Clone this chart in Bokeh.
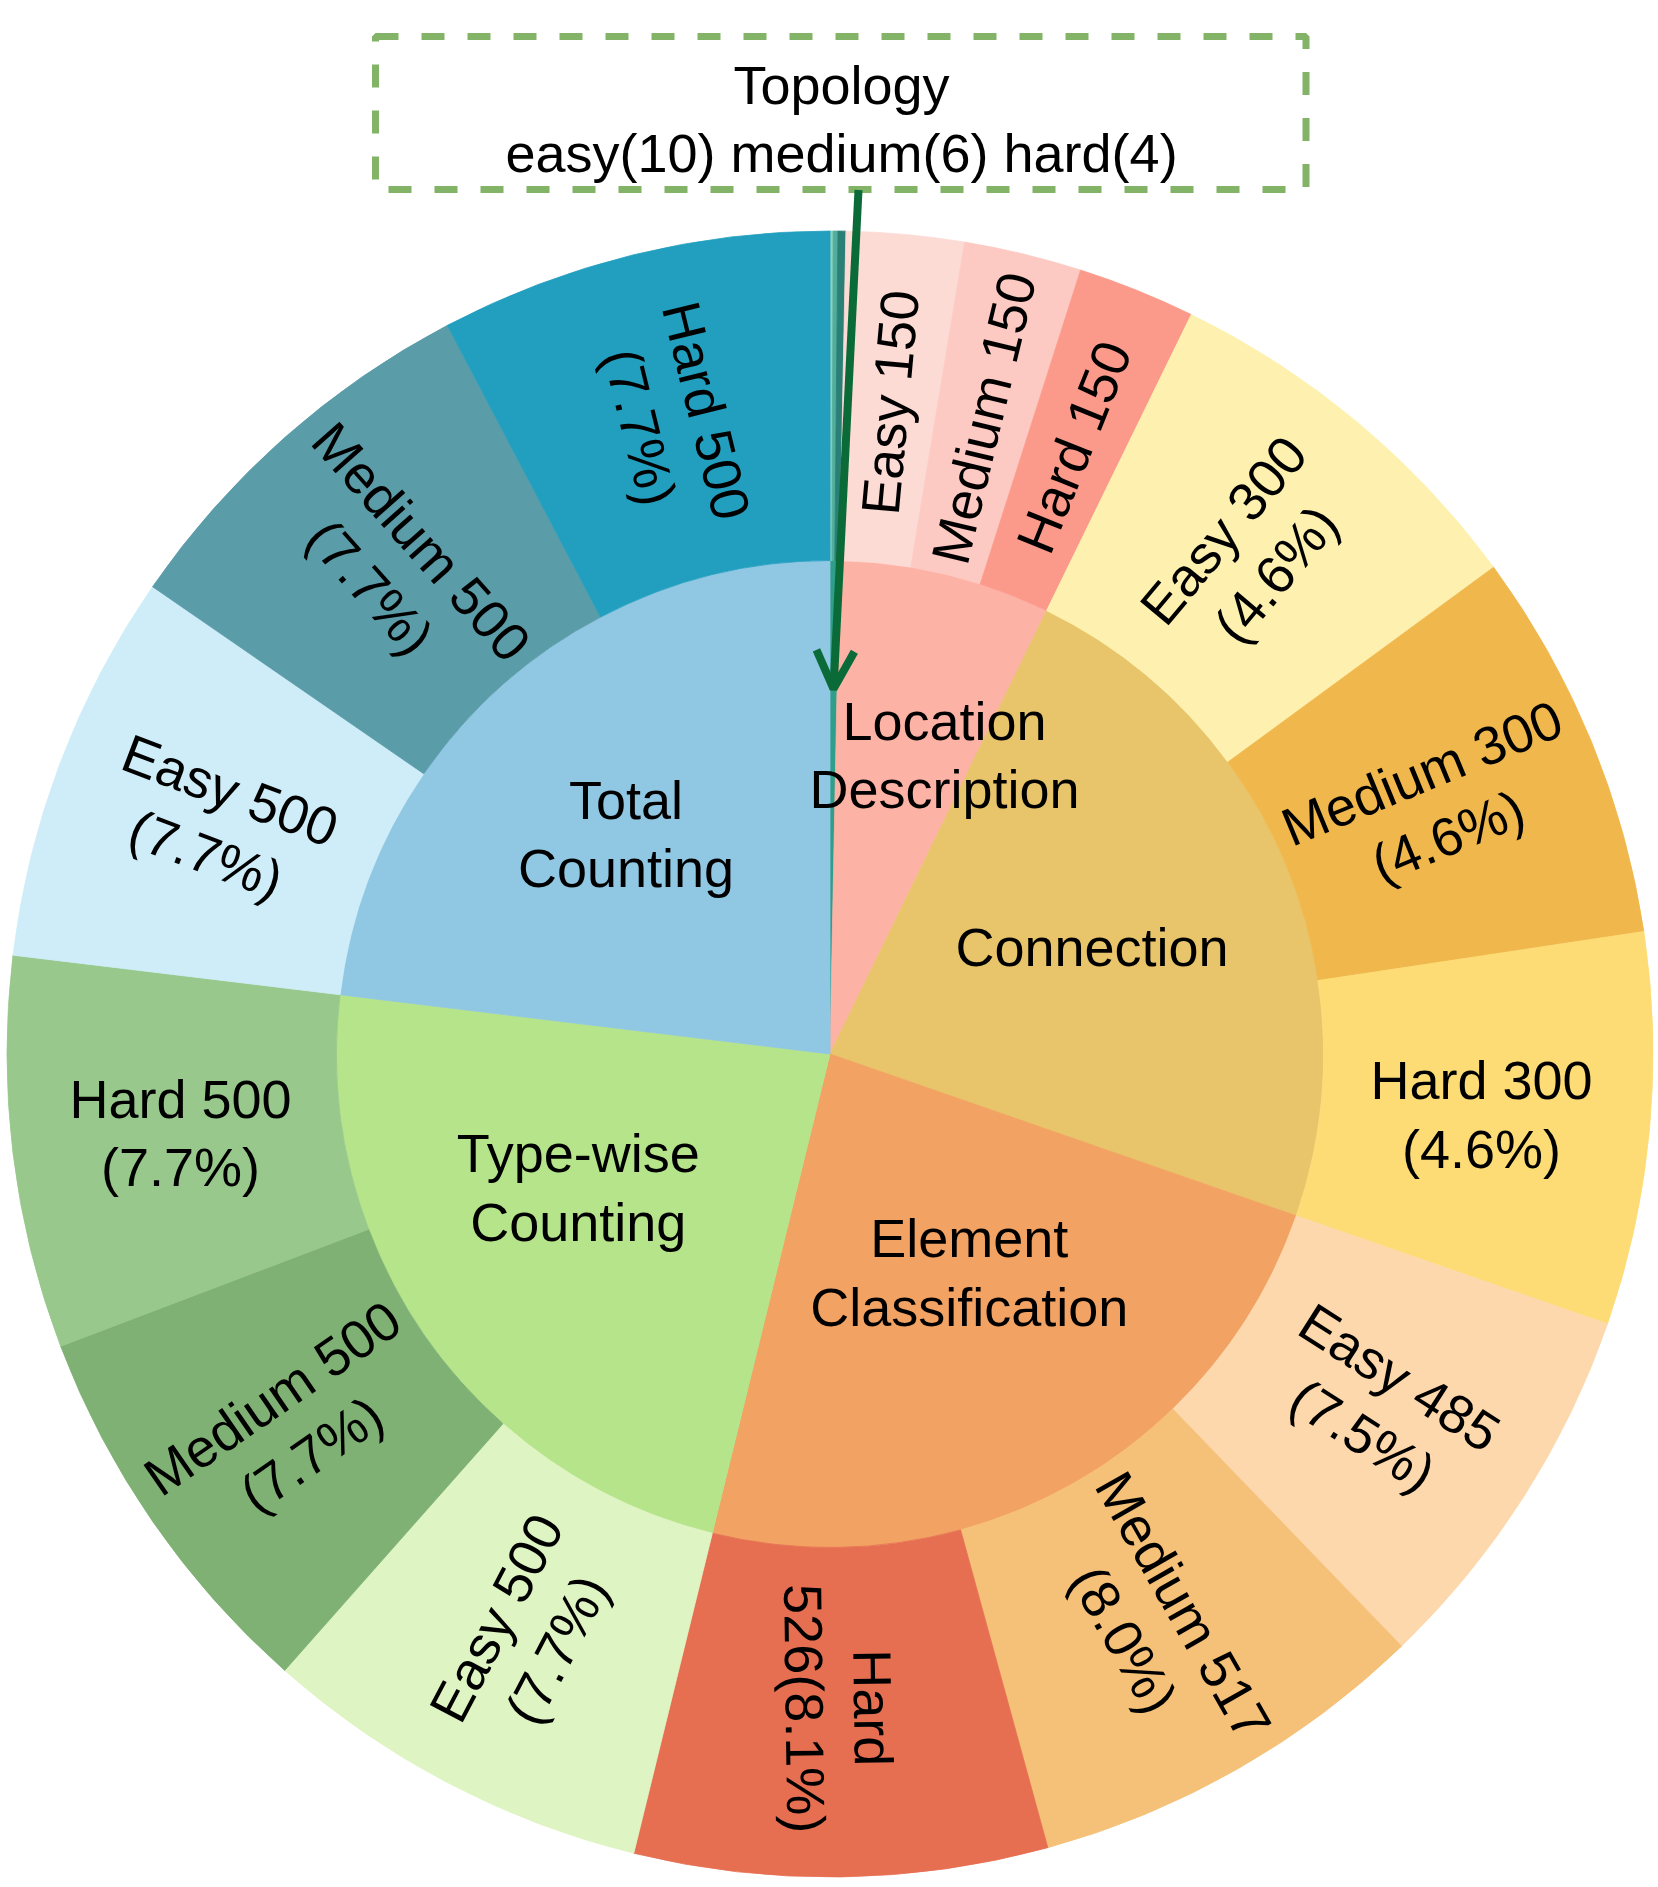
import math
from bokeh.plotting import figure
from bokeh.models import Range1d, Arrow, OpenHead, ColumnDataSource
from bokeh.core.properties import value
from bokeh.embed import file_html
from bokeh.resources import INLINE

# ---------------- data ----------------
categories = ["Topology", "Location Description", "Connection",
              "Element Classification", "Type-wise Counting", "Total Counting"]
inner_labels = ["", "Location\nDescription", "Connection",
                "Element\nClassification", "Type-wise\nCounting", "Total\nCounting"]
levels = ["Easy", "Medium", "Hard"]

topology_counts = [10, 6, 4]
location_counts = [150, 150, 150]
connection_counts = [300, 300, 300]
element_counts = [485, 517, 526]
typewise_counts = [500, 500, 500]
total_counts = [500, 500, 500]

# sector sizes as drawn in the reference
topology_sizes = [10, 6, 4]
location_sizes = [150, 150, 150]
connection_sizes = [500, 500, 500]
element_sizes = [485, 517, 526]
typewise_sizes = [500, 500, 500]
total_sizes = [500, 500, 500]

inner_colors = ["#2F9E8B", "#FDB2A6", "#E8C56A", "#F2A262", "#B5E48B", "#90C7E3"]
outer_colors = [
    ["#2A7F77", "#52AE9C", "#8CD2BF"],   # topology easy, medium, hard
    ["#FDDBD5", "#FDCAC3", "#FB9A8B"],
    ["#FEF1AF", "#F0B84C", "#FDDC76"],
    ["#FDD8AC", "#F5C077", "#E66F52"],
    ["#DFF4C3", "#7FB174", "#98C88B"],
    ["#CFEDF8", "#5B9CA9", "#229FBF"],
]

counts = [topology_counts, location_counts, connection_counts,
          element_counts, typewise_counts, total_counts]
sizes = [topology_sizes, location_sizes, connection_sizes,
         element_sizes, typewise_sizes, total_sizes]

# ---------------- geometry (styles) ----------------
R_IN = 493.5
R_OUT = 823.0
FONT = value("Liberation Sans")
FS = "54px"
LH = 1.14

total_size = float(sum(sum(s) for s in sizes))


def to_math(theta_deg):
    # clockwise-from-top degrees -> bokeh radians (ccw from +x)
    return math.radians(90.0 - theta_deg)


inner = dict(start=[], end=[], color=[])
outer = dict(start=[], end=[], color=[])
outer_text = dict(x=[], y=[], text=[], angle=[])
inner_mid = []

# per-category label placement for inner ring: (angle offset deg, radius)
inner_place = [(0, 0), (7.4, 320), (0.2, 283), (-4.0, 259), (6.7, 285), (-1.3, 300)]

theta = 0.0
for ci, cat in enumerate(categories):
    order = [2, 1, 0] if ci == 0 else [0, 1, 2]
    cat_start = theta
    for j in order:
        span = sizes[ci][j] / total_size * 360.0
        a0, a1 = theta, theta + span
        outer["start"].append(to_math(a1))
        outer["end"].append(to_math(a0))
        outer["color"].append(outer_colors[ci][j])
        mid = (a0 + a1) / 2.0
        cnt = counts[ci][j]
        pct = cnt / total_size * 100.0
        if ci == 0:
            lab = None
        elif ci == 1:
            lab = f"{levels[j]} {cnt}"
        elif ci == 3 and j == 2:
            lab = f"{levels[j]}\n{cnt}({pct:.1f}%)"
        else:
            lab = f"{levels[j]} {cnt}\n({pct:.1f}%)"
        if lab is not None:
            rr = (R_IN + R_OUT) / 2.0 - 4
            ang = 90.0 - mid if mid < 180 else 270.0 - mid
            if abs(ang) < 9:          # near-horizontal labels are drawn flat
                ang = 0.0
            outer_text["x"].append(rr * math.sin(math.radians(mid)))
            outer_text["y"].append(rr * math.cos(math.radians(mid)))
            outer_text["text"].append(lab)
            outer_text["angle"].append(math.radians(ang))
        theta = a1
    inner["start"].append(to_math(theta))
    inner["end"].append(to_math(cat_start))
    inner["color"].append(inner_colors[ci])
    inner_mid.append((cat_start + theta) / 2.0)

inner_text = dict(x=[], y=[], text=[])
for ci, lab in enumerate(inner_labels):
    if not lab:
        continue
    off, rr = inner_place[ci]
    a = inner_mid[ci] + off
    inner_text["x"].append(rr * math.sin(math.radians(a)))
    inner_text["y"].append(rr * math.cos(math.radians(a)))
    inner_text["text"].append(lab)

# ---------------- figure ----------------
p = figure(width=1658, height=1887,
           x_range=Range1d(-829.5, 828.5), y_range=Range1d(-833.5, 1053.5),
           output_backend="svg", toolbar_location=None,
           x_axis_type=None, y_axis_type=None, min_border=0)
p.grid.visible = False
p.outline_line_color = None
p.background_fill_color = "white"
p.border_fill_color = "white"

p.wedge(x=0, y=0, radius=R_IN, start_angle="start", end_angle="end",
        fill_color="color", line_color="color", line_width=0.8,
        source=ColumnDataSource(inner))
p.annular_wedge(x=0, y=0, inner_radius=R_IN, outer_radius=R_OUT,
                start_angle="start", end_angle="end",
                fill_color="color", line_color="color", line_width=0.8,
                source=ColumnDataSource(outer))

p.text(x="x", y="y", text="text", angle="angle", source=ColumnDataSource(outer_text),
       text_align="center", text_baseline="middle", text_font=FONT,
       text_font_size=FS, text_color="black", text_line_height=LH)
p.text(x="x", y="y", text="text", source=ColumnDataSource(inner_text),
       text_align="center", text_baseline="middle", text_font=FONT,
       text_font_size=FS, text_color="black", text_line_height=LH)

# annotation box for Topology
box_text = "Topology\n" + " ".join(
    f"{lv.lower()}({c})" for lv, c in zip(levels, topology_counts))
p.quad(left=[-454.5], right=[476], top=[1017.5], bottom=[864.5],
       fill_color=None, line_color="#82B366", line_width=7, line_dash="23 23")
p.text(x=[11.5], y=[935], text=[box_text], text_align="center",
       text_baseline="middle", text_font=FONT, text_font_size=FS,
       text_color="black", text_line_height=LH)

arrow_c = "#0B6B38"
tip_r = 0.74 * R_IN
p.add_layout(Arrow(end=OpenHead(size=38, line_width=8, line_color=arrow_c),
                   x_start=28.5, y_start=864,
                   x_end=tip_r * math.sin(math.radians(inner_mid[0])),
                   y_end=tip_r * math.cos(math.radians(inner_mid[0])),
                   line_width=8, line_color=arrow_c))

open("out.html", "w").write(file_html(p, INLINE))
